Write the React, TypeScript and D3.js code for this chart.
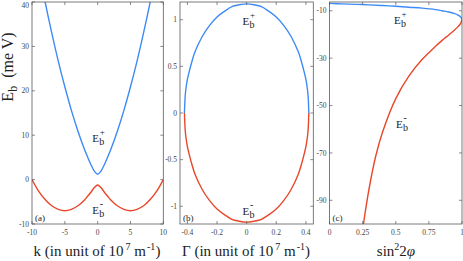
import React from 'react';
import * as d3 from 'd3';

// ---- panel (a): E_b against k ----
const kValues = [-10, -9, -8, -7, -6, -5, -4, -3, -2, -1.5, -1, -0.5, 0, 0.5, 1, 1.5, 2, 3, 4, 5, 6, 7, 8, 9, 10];
const ebPlusK = [55.6, 47.6, 40.0, 33.1, 26.7, 20.9, 15.6, 10.9, 6.8, 5.0, 3.3, 1.9, 1.2, 1.9, 3.3, 5.0, 6.8, 10.9, 15.6, 20.9, 26.7, 33.1, 40.0, 47.6, 55.6];
const ebMinusK = [0, -2.6, -4.5, -5.9, -6.7, -7.0, -6.7, -5.9, -4.6, -3.7, -2.8, -1.8, -1.2, -1.8, -2.8, -3.7, -4.6, -5.9, -6.7, -7.0, -6.7, -5.9, -4.5, -2.6, 0];
const kTicks = [-10, -5, 0, 5, 10];
const ebTicksA = [-10, 0, 10, 20, 30, 40];

// ---- panel (b): E_b against Gamma ----
const gammaValues = [-0.42, -0.415, -0.41, -0.4, -0.39, -0.37, -0.35, -0.3, -0.25, -0.2, -0.15, -0.1, -0.05, 0, 0.05, 0.1, 0.15, 0.2, 0.25, 0.3, 0.35, 0.37, 0.39, 0.4, 0.41, 0.415, 0.42];
const ebPlusGamma = [0, 0.18, 0.26, 0.36, 0.43, 0.55, 0.65, 0.82, 0.94, 1.03, 1.09, 1.14, 1.16, 1.17, 1.16, 1.14, 1.09, 1.03, 0.94, 0.82, 0.65, 0.55, 0.43, 0.36, 0.26, 0.18, 0];
const ebMinusGamma = [0, -0.18, -0.26, -0.36, -0.43, -0.55, -0.65, -0.82, -0.94, -1.03, -1.09, -1.14, -1.16, -1.17, -1.16, -1.14, -1.09, -1.03, -0.94, -0.82, -0.65, -0.55, -0.43, -0.36, -0.26, -0.18, 0];
const gammaTicks = [-0.4, -0.2, 0, 0.2, 0.4];
const ebTicksB = [-1, -0.5, 0, 0.5, 1];

// ---- panel (c): E_b against sin^2 2phi ----
const sinPlus = [0, 0.1, 0.2, 0.3, 0.4, 0.5, 0.6, 0.7, 0.8, 0.85, 0.9, 0.94, 0.97, 0.99, 1.0];
const ebPlusSin = [-6.9, -7.1, -7.3, -7.5, -7.8, -8.1, -8.5, -8.9, -9.5, -10.0, -10.5, -11.1, -11.8, -12.6, -13.8];
const sinMinus = [1.0, 0.99, 0.97, 0.94, 0.9, 0.85, 0.8, 0.7, 0.6, 0.5, 0.4, 0.35, 0.3, 0.26, 0.255];
const ebMinusSin = [-13.8, -15.3, -16.7, -18.3, -20.2, -22.5, -25.0, -30.5, -37.5, -47.1, -61.3, -71.1, -84.7, -98.6, -100.7];
const sinTicks = [0, 0.25, 0.5, 0.75, 1];
const ebTicksC = [-90, -70, -50, -30, -10];

const BLUE = '#3d8bf6';
const RED = '#e8472a';
const AXIS = '#5a5a5a';
const serif = { fontFamily: "'Liberation Serif', 'DejaVu Serif', serif" };

const TOP = 2;
const BOTTOM = 224;

const toPts = (xs: number[], ys: number[]) => xs.map((x, i) => [x, ys[i]] as [number, number]);

function Panel({ id, x0, x1, xDomain, yDomain, xTicks, yTicks, series, tag }: any) {
  const x = d3.scaleLinear().domain(xDomain).range([x0, x1]);
  const y = d3.scaleLinear().domain(yDomain).range([BOTTOM, TOP]);
  const line = d3.line<[number, number]>()
    .x(d => x(d[0]))
    .y(d => y(d[1]))
    .curve(d3.curveCatmullRom.alpha(0.5));
  const tl = 3;
  return (
    <g>
      <defs>
        <clipPath id={id}>
          <rect x={x0} y={TOP} width={x1 - x0} height={BOTTOM - TOP} />
        </clipPath>
      </defs>
      <g clipPath={`url(#${id})`}>
        {series.map((s: any, i: number) => (
          <path key={i} d={line(s.pts) || ''} fill="none" stroke={s.color} strokeWidth={1.4} />
        ))}
      </g>
      <rect x={x0} y={TOP} width={x1 - x0} height={BOTTOM - TOP} fill="none" stroke={AXIS} strokeWidth={0.8} />
      {xTicks.map((t: number) => (
        <g key={'x' + t}>
          <line x1={x(t)} x2={x(t)} y1={BOTTOM} y2={BOTTOM - tl} stroke={AXIS} strokeWidth={0.7} />
          <line x1={x(t)} x2={x(t)} y1={TOP} y2={TOP + tl} stroke={AXIS} strokeWidth={0.7} />
          <text x={x(t)} y={BOTTOM + 11} fontSize={7.5} textAnchor="middle" fill="#444" style={serif}>{String(t)}</text>
        </g>
      ))}
      {yTicks.map((t: number) => (
        <g key={'y' + t}>
          <line x1={x0} x2={x0 + tl} y1={y(t)} y2={y(t)} stroke={AXIS} strokeWidth={0.7} />
          <line x1={x1} x2={x1 - tl} y1={y(t)} y2={y(t)} stroke={AXIS} strokeWidth={0.7} />
          <text x={x0 - 3} y={Math.max(y(t) + 2.6, 7.5)} fontSize={7.5} textAnchor="end" fill="#444" style={serif}>{String(t)}</text>
        </g>
      ))}
      <text x={x0 + 3} y={221} fontSize={9} fill="#222" style={serif}>{tag}</text>
    </g>
  );
}

function EbLabel({ x, y, sign }: { x: number; y: number; sign: string }) {
  return (
    <g style={serif} fill="#222">
      <text x={x} y={y} fontSize={11} style={serif}>E</text>
      <text x={x + 7} y={y + 3} fontSize={10} style={serif}>b</text>
      <text x={x + 7.5} y={y - 7} fontSize={sign === '+' ? 9 : 10} style={serif}>{sign}</text>
    </g>
  );
}

export default function App() {
  return (
    <div style={{ position: 'fixed', left: 0, top: 0, background: '#fff' }}>
      <svg width={463} height={261} style={{ display: 'block' }}>
        <rect width={463} height={261} fill="#fff" />
        <Panel
          id="clipA" x0={32} x1={163.3} xDomain={[-10, 10]} yDomain={[-10, 40]}
          xTicks={kTicks} yTicks={ebTicksA} tag="(a)"
          series={[
            { pts: toPts(kValues, ebPlusK), color: BLUE },
            { pts: toPts(kValues, ebMinusK), color: RED },
          ]}
        />
        <Panel
          id="clipB" x0={180} x1={313.3} xDomain={[-0.45, 0.45]} yDomain={[-1.19, 1.19]}
          xTicks={gammaTicks} yTicks={ebTicksB} tag="(b)"
          series={[
            { pts: toPts(gammaValues, ebPlusGamma), color: BLUE },
            { pts: toPts(gammaValues, ebMinusGamma), color: RED },
          ]}
        />
        <Panel
          id="clipC" x0={329.5} x1={462} xDomain={[0, 1]} yDomain={[-100, -6.3]}
          xTicks={sinTicks} yTicks={ebTicksC} tag="(c)"
          series={[
            { pts: toPts(sinPlus, ebPlusSin), color: BLUE },
            { pts: toPts(sinMinus, ebMinusSin), color: RED },
          ]}
        />

        <EbLabel x={92.3} y={141.5} sign="+" />
        <EbLabel x={92.3} y={214} sign="-" />
        <EbLabel x={242.5} y={25} sign="+" />
        <EbLabel x={242.5} y={215} sign="-" />
        <EbLabel x={394} y={23.5} sign="+" />
        <EbLabel x={396} y={128} sign="-" />

        {/* y axis title */}
        <text transform="translate(13,67) rotate(-90)" fontSize={16} textAnchor="middle" style={serif} fill="#222">
          E<tspan fontSize={12} dy={4}>b</tspan><tspan dy={-4}>{'\u00a0 (me V)'}</tspan>
        </text>

        {/* x axis titles */}
        <text x={97} y={256} fontSize={15} textAnchor="middle" style={serif} fill="#222">
          k (in unit of 10<tspan fontSize={10} dx={2} dy={-6}>7</tspan><tspan dy={6}>{' m'}</tspan>
          <tspan fontSize={10} dx={1} dy={-6}>-1</tspan><tspan dy={6}>)</tspan>
        </text>
        <text x={246} y={256} fontSize={15} textAnchor="middle" style={serif} fill="#222">
          Γ (in unit of 10<tspan fontSize={10} dx={2} dy={-6}>7</tspan><tspan dy={6}>{' m'}</tspan>
          <tspan fontSize={10} dx={1} dy={-6}>-1</tspan><tspan dy={6}>)</tspan>
        </text>
        <text x={396} y={256} fontSize={15} textAnchor="middle" style={serif} fill="#222">
          sin<tspan fontSize={10} dy={-6}>2</tspan><tspan dy={6}>2</tspan><tspan fontStyle="italic">φ</tspan>
        </text>
      </svg>
    </div>
  );
}
